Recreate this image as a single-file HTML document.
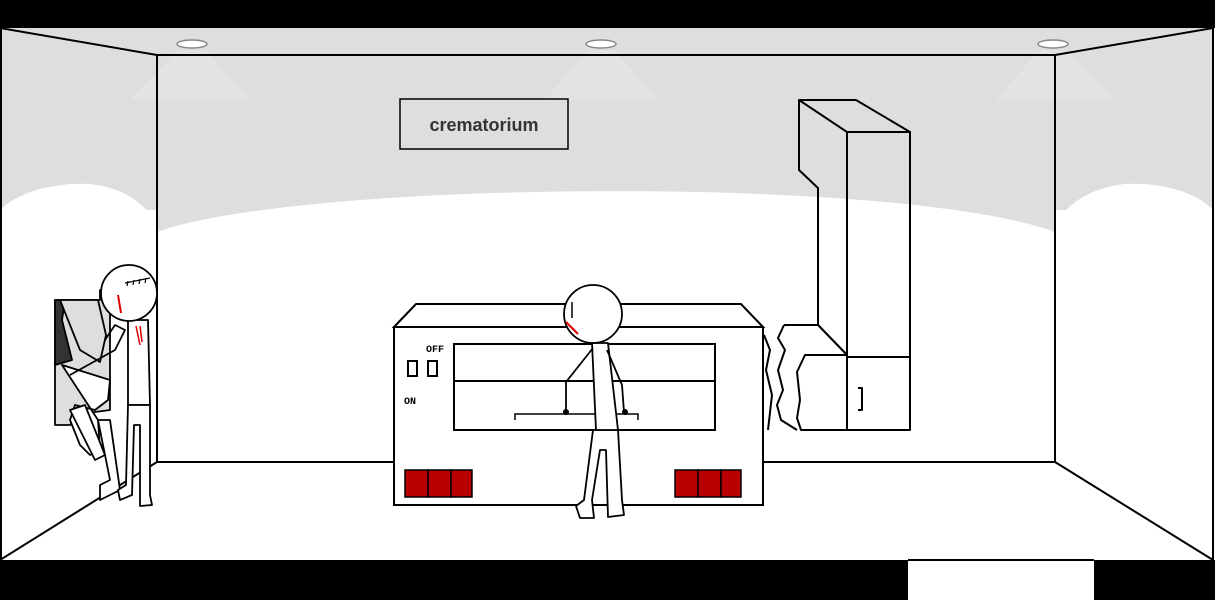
<!DOCTYPE html>
<html><head><meta charset="utf-8"><style>html,body{margin:0;padding:0;background:#fff}svg{display:block}</style></head><body>
<svg width="1215" height="600" viewBox="0 0 1215 600" xmlns="http://www.w3.org/2000/svg" font-family="Liberation Sans, sans-serif">
<rect width="1215" height="600" fill="#fff"/>
<!-- gray upper areas -->
<path d="M0,28 L1213,28 L1213,210 L0,210 Z" fill="#dedede"/>
<path d="M157,232 Q157,55 157,55 L1055,55 L1055,232 Q606,150 157,232 Z" fill="#dedede"/>
<path d="M157,232 C300,180 900,175 1055,232 L1055,470 L157,470 Z" fill="#fff"/>
<path d="M0,210 C20,190 60,182 90,184 C125,188 150,205 157,230 L157,470 L0,470 Z" fill="#fff"/>
<path d="M1213,210 C1195,190 1155,182 1125,184 C1090,188 1062,205 1055,230 L1055,470 L1213,470 Z" fill="#fff"/>
<!-- light cones -->
<g fill="#e6e6e6"><polygon points="178,50 206,50 250,100 130,100" opacity="0.6"/><polygon points="588,50 614,50 660,100 545,100" opacity="0.6"/><polygon points="1040,50 1066,50 1115,100 995,100" opacity="0.6"/></g>
<!-- room lines -->
<g stroke="#000" stroke-width="2" fill="none">
<rect x="157" y="55" width="898" height="407"/>
<line x1="0" y1="28" x2="157" y2="55"/><line x1="1213" y1="28" x2="1055" y2="55"/>
<line x1="0" y1="560" x2="157" y2="462"/><line x1="1213" y1="560" x2="1055" y2="462"/>
<line x1="1" y1="28" x2="1" y2="560"/><line x1="1213" y1="28" x2="1213" y2="560"/>
</g>
<rect x="0" y="0" width="1215" height="28" fill="#000"/>
<rect x="0" y="560" width="908" height="40" fill="#000"/>
<rect x="1094" y="560" width="121" height="40" fill="#000"/>
<line x1="908" y1="560" x2="1094" y2="560" stroke="#000" stroke-width="2"/>
<g fill="#fff" stroke="#888" stroke-width="1.5"><ellipse cx="192" cy="44" rx="15" ry="4"/><ellipse cx="601" cy="44" rx="15" ry="4"/><ellipse cx="1053" cy="44" rx="15" ry="4"/></g>
<!-- sign -->
<rect x="400" y="99" width="168" height="50" fill="#dedede" stroke="#000" stroke-width="1.5"/>
<text x="484" y="131" font-size="18" font-weight="bold" text-anchor="middle" fill="#333">crematorium</text>
<!-- chimney -->
<g stroke="#000" stroke-width="2" fill="none" stroke-linejoin="round">
<polygon points="799,100 856,100 910,132 847,132"/>
<polyline points="799,100 799,170 818,188 818,325 847,355"/>
<rect x="847" y="132" width="63" height="298"/>
<line x1="847" y1="357" x2="910" y2="357"/>
<polyline points="858,388 862,388 862,410 858,410"/>
<path d="M784,325 L818,325 L847,355 L805,355 L797,372 L800,400 L797,418 L801,430 L847,430" fill="#fff"/>
<path d="M784,325 L778,338 L785,350 L778,370 L783,390 L777,405 L781,420 L797,430" fill="#fff"/>
<path d="M764,335 L770,350 L766,370 L772,395 L768,430" />
</g>
<!-- machine -->
<g stroke="#000" stroke-width="2" fill="#fff">
<polygon points="394,327 416,304 741,304 763,327"/>
<rect x="394" y="327" width="369" height="178"/>
<rect x="454" y="344" width="261" height="86"/>
<line x1="454" y1="381" x2="715" y2="381"/>
<rect x="408" y="361" width="9" height="15"/><rect x="428" y="361" width="9" height="15"/>
</g>
<polyline points="515,420 515,414 638,414 638,420" stroke="#000" stroke-width="1.5" fill="none"/>
<text x="426" y="352" font-size="10" font-weight="bold" font-family="Liberation Mono, monospace">OFF</text>
<text x="404" y="404" font-size="10" font-weight="bold" font-family="Liberation Mono, monospace">ON</text>
<g fill="#b80000" stroke="#000" stroke-width="1.5">
<rect x="405" y="470" width="23" height="27"/><rect x="428" y="470" width="23" height="27"/><rect x="451" y="470" width="21" height="27"/>
<rect x="675" y="470" width="23" height="27"/><rect x="698" y="470" width="23" height="27"/><rect x="721" y="470" width="20" height="27"/>
</g>
<!-- middle figure -->
<g stroke="#000" stroke-width="1.8" fill="#fff" stroke-linejoin="round">
<polygon points="593,430 618,430 622,500 624,515 608,517 606,450 600,450 592,500 594,518 580,518 576,506 584,500"/>
<polygon points="592,343 608,343 618,430 596,430"/>
<polyline points="593,348 566,382 566,412" fill="none"/>
<polyline points="607,350 622,385 624,412" fill="none"/>
<circle cx="593" cy="314" r="29"/>
</g>
<line x1="572" y1="302" x2="572" y2="318" stroke="#000" stroke-width="1.5"/>
<line x1="566" y1="322" x2="578" y2="334" stroke="#d00" stroke-width="2"/>
<circle cx="566" cy="412" r="3" fill="#000"/><circle cx="625" cy="412" r="3" fill="#000"/>
<!-- left figure + victim -->
<g stroke="#000" stroke-width="1.8" fill="#dedede" stroke-linejoin="round">
<polygon points="55,300 100,300 100,290 110,300 110,410 80,414 70,425 55,425"/>
<polygon points="55,300 65,300 62,320 72,360 55,365" fill="#333"/>
<path d="M60,300 L98,300 L106,335 L100,362 L80,350 Z" fill="#dedede"/>
<path d="M62,365 L110,380 L108,400 L95,410 L75,405 L70,420 L80,445 L90,455 L100,450 L98,420 Z" fill="#fff"/>
<path d="M70,410 L95,460 L105,455 L85,405 Z" fill="#fff"/>
<path d="M98,420 L110,420 L120,490 L100,500 L100,485 L110,480 Z" fill="#fff"/>
<path d="M105,340 L115,325 L125,330 L115,350 L70,375" fill="none"/>
<polygon points="128,320 148,320 150,405 128,405" fill="#fff"/>
<polygon points="128,405 150,405 150,495 152,505 140,506 140,425 134,425 132,495 120,500 118,490 126,485" fill="#fff"/>
<circle cx="129" cy="293" r="28" fill="#fff"/>
</g>
<path d="M125,283 L150,278 M128,281 L127,286 M134,280 L133,285 M140,279 L139,284 M146,278 L145,283" stroke="#000" stroke-width="1.2"/>
<line x1="118" y1="295" x2="121" y2="313" stroke="#d00" stroke-width="2"/>
<path d="M136,326 L140,345 M140,326 L142,342" stroke="#d00" stroke-width="1.5"/>
</svg>
</body></html>
